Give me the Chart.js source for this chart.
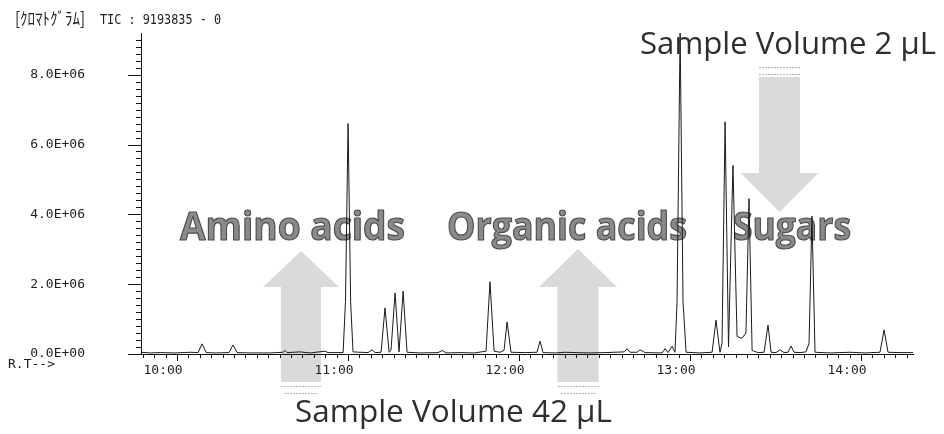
<!DOCTYPE html>
<html>
<head>
<meta charset="utf-8">
<script src="https://cdn.jsdelivr.net/npm/chart.js@4/dist/chart.umd.min.js"></script>
<style>
html,body{margin:0;padding:0;background:#fff;}
#wrap{width:944px;height:434px;position:relative;}
</style>
</head>
<body>
<div id="wrap"><canvas id="c" width="944" height="434"></canvas></div>
<script>
// Retention time (minutes) and TIC intensity
const retentionTime = [
  9.789, 9.842, 9.901, 9.988, 10.076, 10.123, 10.146, 10.170, 10.222, 10.304,
  10.327, 10.351, 10.427, 10.544, 10.620, 10.632, 10.643, 10.719, 10.778, 10.865,
  10.883, 10.971, 10.985, 11.000, 11.015, 11.029, 11.070, 11.117, 11.140, 11.158,
  11.193, 11.216, 11.240, 11.251, 11.275, 11.298, 11.322, 11.345, 11.421, 11.526,
  11.550, 11.573, 11.655, 11.737, 11.807, 11.830, 11.854, 11.889, 11.912, 11.930,
  11.953, 12.035, 12.105, 12.123, 12.140, 12.211, 12.269, 12.327, 12.415, 12.503,
  12.614, 12.632, 12.649, 12.690, 12.708, 12.737, 12.836, 12.854, 12.871, 12.895,
  12.912, 12.924, 12.942, 12.959, 12.977, 13.058, 13.129, 13.152, 13.175, 13.187,
  13.205, 13.225, 13.251, 13.275, 13.304, 13.327, 13.345, 13.363, 13.398, 13.433,
  13.456, 13.474, 13.503, 13.526, 13.550, 13.573, 13.591, 13.608, 13.643, 13.678,
  13.696, 13.713, 13.731, 13.819, 13.936, 14.023, 14.111, 14.135, 14.158, 14.228,
  14.304
];
const ticIntensity = [
  50000, 30000, 40000, 30000, 50000, 40000, 290000, 40000, 30000, 40000,
  260000, 40000, 30000, 30000, 50000, 100000, 40000, 60000, 30000, 80000,
  40000, 40000, 1500000, 6600000, 1500000, 60000, 50000, 40000, 120000, 40000,
  50000, 1320000, 50000, 100000, 1750000, 60000, 1800000, 50000, 30000, 40000,
  100000, 30000, 40000, 30000, 80000, 2070000, 80000, 50000, 100000, 920000,
  50000, 40000, 50000, 370000, 40000, 30000, 50000, 40000, 30000, 40000,
  60000, 150000, 50000, 50000, 120000, 40000, 30000, 150000, 40000, 220000,
  50000, 1500000, 9193835, 1500000, 50000, 30000, 50000, 970000, 50000, 300000,
  6650000, 200000, 5400000, 500000, 450000, 600000, 4450000, 100000, 40000, 50000,
  830000, 50000, 40000, 120000, 40000, 50000, 230000, 50000, 40000, 60000,
  300000, 3950000, 50000, 30000, 50000, 30000, 50000, 690000, 50000, 40000,
  40000
];
const xTickValues = [10, 11, 12, 13, 14];
const xTickLabels = ['10:00', '11:00', '12:00', '13:00', '14:00'];
const yTickValues = [0, 2000000, 4000000, 6000000, 8000000];
const yTickLabels = ['0.0E+00', '2.0E+06', '4.0E+06', '6.0E+06', '8.0E+06'];
const xRange = [9.789, 14.304];
const yRange = [0, 9193835];
const headerLabel = '[ｸﾛﾏﾄｸﾞﾗﾑ]';
const headerTic = 'TIC : 9193835 - 0';
const axisNote = 'R.T-->';
const groupLabels = ['Amino acids', 'Organic acids', 'Sugars'];
const volumeLabels = ['Sample Volume 2 µL', 'Sample Volume 42 µL'];

const MONO = '"DejaVu Sans Mono", "Liberation Mono", monospace';

function upArrow(ctx, cx, tipY, headHalf, shaftHalf, baseY, bottomY) {
  ctx.beginPath();
  ctx.moveTo(cx, tipY);
  ctx.lineTo(cx + headHalf, baseY);
  ctx.lineTo(cx + shaftHalf, baseY);
  ctx.lineTo(cx + shaftHalf, bottomY);
  ctx.lineTo(cx - shaftHalf, bottomY);
  ctx.lineTo(cx - shaftHalf, baseY);
  ctx.lineTo(cx - headHalf, baseY);
  ctx.closePath();
  ctx.fill();
}
function downArrow(ctx, cx, topY, shaftHalf, headHalf, baseY, tipY) {
  ctx.beginPath();
  ctx.moveTo(cx - shaftHalf, topY);
  ctx.lineTo(cx + shaftHalf, topY);
  ctx.lineTo(cx + shaftHalf, baseY);
  ctx.lineTo(cx + headHalf, baseY);
  ctx.lineTo(cx, tipY);
  ctx.lineTo(cx - headHalf, baseY);
  ctx.lineTo(cx - shaftHalf, baseY);
  ctx.closePath();
  ctx.fill();
}
function dashLine(ctx, x1, x2, y) {
  ctx.beginPath();
  ctx.moveTo(x1, y + 0.5);
  ctx.lineTo(x2, y + 0.5);
  ctx.stroke();
}

const decor = {
  id: 'decor',
  beforeDraw(chart) {
    const ctx = chart.ctx;
    ctx.save();
    // arrows
    ctx.fillStyle = '#dadada';
    upArrow(ctx, 301, 251, 38, 20, 287, 382);
    upArrow(ctx, 578, 249, 39, 20.5, 287, 382);
    downArrow(ctx, 779.5, 77, 20.5, 39, 173, 212);
    ctx.strokeStyle = '#b4b4b4';
    ctx.lineWidth = 1;
    ctx.setLineDash([2, 1]);
    dashLine(ctx, 281, 321, 386); dashLine(ctx, 284, 318, 393);
    dashLine(ctx, 558, 599, 386); dashLine(ctx, 561, 596, 393);
    dashLine(ctx, 759, 800, 67); dashLine(ctx, 759, 800, 74);
    ctx.setLineDash([]);

    // group labels
    ctx.textBaseline = 'alphabetic';
    ctx.textAlign = 'left';
    ctx.font = 'bold 39px "Open Sans", Lato, sans-serif';
    ctx.lineJoin = 'round';
    const groups = [[groupLabels[0], 180, 225], [groupLabels[1], 447, 240], [groupLabels[2], 733, 118]];
    groups.forEach(([t, x, w]) => {
      ctx.fillStyle = '#8a8a8a';
      ctx.fillText(t, x, 240, w);
      ctx.strokeStyle = '#4d4d4d';
      ctx.lineWidth = 1.2;
      ctx.strokeText(t, x, 240, w);
    });
    ctx.restore();
  },
  afterDraw(chart) {
    const ctx = chart.ctx;
    const xs = chart.scales.x, ys = chart.scales.y;
    ctx.save();
    // volume labels
    ctx.fillStyle = '#2e2e2e';
    ctx.textAlign = 'left';
    ctx.textBaseline = 'alphabetic';
    ctx.font = '31.5px "Open Sans", Lato, sans-serif';
    ctx.fillText(volumeLabels[0], 640, 54, 296);
    ctx.fillText(volumeLabels[1], 295, 422, 317);

    // tick marks
    ctx.strokeStyle = '#111';
    ctx.lineWidth = 1;
    ctx.beginPath();
    for (let k = Math.ceil(xs.min * 15); k <= Math.floor(xs.max * 15); k++) {
      const px = Math.round(xs.getPixelForValue(k / 15)) + 0.5;
      const len = (k % 15 === 0) ? 7 : 4;
      ctx.moveTo(px, ys.bottom);
      ctx.lineTo(px, ys.bottom + len);
    }
    for (let k = 0; k * 200000 <= ys.max + 1; k++) {
      const py = Math.round(ys.getPixelForValue(k * 200000)) + 0.5;
      const len = (k % 10 === 0) ? 13 : 5;
      ctx.moveTo(xs.left - len, py);
      ctx.lineTo(xs.left, py);
    }
    ctx.stroke();

    // header
    ctx.fillStyle = '#1e1e1e';
    ctx.textBaseline = 'alphabetic';
    ctx.font = '17px "Noto Sans CJK JP", sans-serif';
    ctx.fillText(headerLabel, 15, 25, 70);
    ctx.font = '14px ' + MONO;
    ctx.fillText(headerTic, 100, 24, 121);
    // R.T--> note
    ctx.font = '13px ' + MONO;
    ctx.textBaseline = 'middle';
    ctx.fillText(axisNote, 8, 365);
    ctx.restore();
  }
};

new Chart(document.getElementById('c'), {
  type: 'line',
  data: {
    datasets: [{
      data: retentionTime.map((t, i) => ({ x: t, y: ticIntensity[i] })),
      borderColor: '#1a1a1a',
      borderWidth: 1,
      pointRadius: 0,
      tension: 0,
      fill: false
    }]
  },
  options: {
    responsive: false,
    animation: false,
    devicePixelRatio: 1,
    layout: { padding: { top: 33, right: 31, left: 0, bottom: 0 } },
    plugins: { legend: { display: false }, tooltip: { enabled: false }, title: { display: false } },
    scales: {
      x: {
        type: 'linear',
        min: xRange[0],
        max: xRange[1],
        grid: { display: false, drawTicks: false },
        border: { display: true, color: '#111', width: 1 },
        afterBuildTicks: s => { s.ticks = xTickValues.map(v => ({ value: v })); },
        afterFit: s => { s.height = 80; s.paddingLeft = 0; s.paddingRight = 0; },
        ticks: {
          callback: (v) => xTickLabels[xTickValues.indexOf(v)],
          font: { family: MONO, size: 13 },
          color: '#1e1e1e',
          padding: 9,
          labelOffset: -14,
          maxRotation: 0,
          autoSkip: false
        }
      },
      y: {
        type: 'linear',
        min: yRange[0],
        max: yRange[1],
        grid: { display: false, drawTicks: false },
        border: { display: true, color: '#111', width: 1 },
        afterBuildTicks: s => { s.ticks = yTickValues.map(v => ({ value: v })); },
        afterFit: s => { s.width = 141; s.paddingTop = 0; s.paddingBottom = 0; },
        ticks: {
          callback: (v) => yTickLabels[yTickValues.indexOf(v)],
          font: { family: MONO, size: 13 },
          color: '#1e1e1e',
          padding: 56
        }
      }
    }
  },
  plugins: [decor]
});
</script>
</body>
</html>
